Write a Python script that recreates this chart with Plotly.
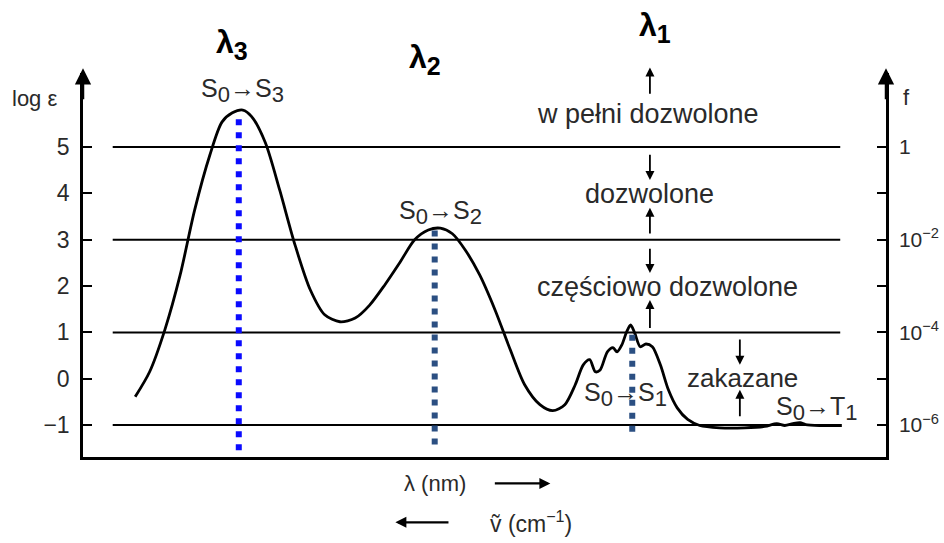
import plotly.graph_objects as go

# Spectrum curve (x: relative position along wavelength axis, 0-100; y: log epsilon)
CURVE_X = [6.5, 8.3, 10.2, 12.1, 13.9, 15.8, 17.3, 18.6, 19.9, 21.0, 22.7, 24.5, 26.4, 28.3, 30.1,
           32.0, 33.9, 35.7, 37.6, 39.5, 41.3, 43.0, 44.5, 46.0, 47.6, 49.4, 51.3, 53.2, 55.0, 56.9,
           58.5, 60.0, 61.3, 62.3, 63.1, 63.8, 64.4, 65.3, 66.0, 66.5, 67.1, 67.7, 68.2, 68.7, 69.4,
           70.1, 70.9, 71.9, 72.9, 74.0, 75.3, 76.8, 79.3, 82.4, 84.9, 86.4, 87.4, 88.4, 89.3, 90.0,
           91.8, 94.5]
CURVE_Y = [-0.39, 0.15, 1.06, 2.24, 3.64, 4.83, 5.54, 5.74, 5.80, 5.66, 5.10, 4.07, 2.89, 1.92, 1.38,
           1.23, 1.31, 1.59, 2.03, 2.52, 3.00, 3.21, 3.25, 3.13, 2.78, 2.24, 1.49, 0.63, -0.13, -0.56,
           -0.69, -0.56, -0.13, 0.30, 0.41, 0.15, 0.19, 0.58, 0.67, 0.58, 0.73, 1.01, 1.16, 0.99, 0.69,
           0.75, 0.69, 0.30, -0.24, -0.63, -0.88, -1.01, -1.06, -1.06, -1.03, -0.97, -1.01, -0.97, -0.95, -0.99,
           -1.01, -1.01]

# Band maxima (lambda_3, lambda_2, lambda_1)
PEAK_X = [19.4, 43.8, 68.4]
PEAK_TOP = [5.6, 3.2, 0.95]
PEAK_BOTTOM = [-1.69, -1.55, -1.25]
PEAK_COLORS = ["#0a0aff", "#2b4f82", "#2b4f82"]

# Boundary levels of log epsilon
LEVELS = [-1, 1, 3, 5]
LEVEL_X = [3.7, 94.3]

# Axis ticks
LEFT_TICKS = [-1, 0, 1, 2, 3, 4, 5]
LEFT_LABELS = ["\u22121", "0", "1", "2", "3", "4", "5"]
RIGHT_LABELS = ["10<sup>\u22126</sup>", "", "10<sup>\u22124</sup>", "", "10<sup>\u22122</sup>", "", "1"]

XMIN, XMAX = 0, 100
YMIN, YMAX = -1.69, 6.6
PX_X = 803 / (XMAX - XMIN)
PX_Y = 384 / (YMAX - YMIN)
FONT = "Liberation Sans, Arial, sans-serif"
TXT = "#2a2a2a"

fig = go.Figure()

for lv in LEVELS:
    fig.add_trace(go.Scatter(x=LEVEL_X, y=[lv, lv], mode="lines",
                             line=dict(color="black", width=2), hoverinfo="skip"))

fig.add_trace(go.Scatter(x=CURVE_X, y=CURVE_Y, mode="lines",
                         line=dict(color="black", width=2.8, shape="spline", smoothing=0.8)))

for px, top, bot, col in zip(PEAK_X, PEAK_TOP, PEAK_BOTTOM, PEAK_COLORS):
    fig.add_trace(go.Scatter(x=[px, px], y=[top, bot], mode="lines",
                             line=dict(color=col, width=6, dash="6px,7px")))

fig.add_trace(go.Scatter(x=[None], y=[None], yaxis="y2", showlegend=False))

ann = []


def pxp(x):
    return (x - XMIN) / (XMAX - XMIN)


def pyp(y):
    return (y - YMIN) / (YMAX - YMIN)


def text(x, y, t, size=27, color=TXT):
    ann.append(dict(x=pxp(x), y=pyp(y), xref="paper", yref="paper", text=t, showarrow=False,
                    xanchor="center", yanchor="middle", borderpad=0,
                    font=dict(family=FONT, size=size, color=color)))


def arrow(x0, y0, x1, y1, width=1.8, head=2, size=1.0):
    ann.append(dict(x=pxp(x1), y=pyp(y1), xref="paper", yref="paper",
                    ax=(x0 - x1) * PX_X, ay=-(y0 - y1) * PX_Y,
                    text="", showarrow=True, arrowhead=head, arrowwidth=width,
                    arrowsize=size, arrowcolor="black"))


text(-6.0, 6.06, "log \u03b5", size=22)
text(102.6, 6.08, "f", size=22)

LAM = "<b>\u03bb</b><sub><span style='font-size:25px'><b>%s</b></span></sub>"
text(18.6, 7.22, LAM % "3", size=32, color="black")
text(42.6, 6.90, LAM % "2", size=32, color="black")
text(71.2, 7.58, LAM % "1", size=32, color="black")

S = "S<sub><span style='font-size:22px'>%s</span></sub>"
T = "T<sub><span style='font-size:22px'>%s</span></sub>"
text(19.9, 6.23, (S % "0") + "\u2192" + (S % "3"), size=25)
text(44.5, 3.58, (S % "0") + "\u2192" + (S % "2"), size=25)
text(67.6, -0.35, (S % "0") + "\u2192" + (S % "1"), size=25)
text(91.3, -0.64, (S % "0") + "\u2192" + (T % "1"), size=25)

text(70.4, 5.71, "w pe\u0142ni dozwolone")
text(70.6, 3.99, "dozwolone")
text(72.8, 1.98, "cz\u0119\u015bciowo dozwolone")
text(82.1, 0.02, "zakazane", size=26)

arrow(70.6, 6.12, 70.6, 6.72)
arrow(70.6, 4.87, 70.6, 4.29)
arrow(70.6, 3.10, 70.6, 3.69)
arrow(70.6, 2.84, 70.6, 2.28)
arrow(70.6, 1.06, 70.6, 1.70)
arrow(81.8, 0.88, 81.8, 0.30)
arrow(81.8, -0.84, 81.8, -0.24)

# axis arrowheads
arrow(0, 6.0, 0, YMAX + 0.1, width=2.5, head=2, size=1.3)
arrow(100, 6.0, 100, YMAX + 0.1, width=2.5, head=2, size=1.3)

# bottom axis labels
text(43.8, -2.26, "\u03bb (nm)", size=22)
arrow(51.1, -2.26, 58.2, -2.26, width=2.2, head=2)
arrow(45.7, -3.10, 38.9, -3.10, width=2.2, head=2)
text(55.8, -3.10, "\u1e7d (cm<sup>\u22121</sup>)", size=23)

fig.update_layout(
    width=944, height=543,
    margin=dict(l=83, r=58, t=73, b=86),
    paper_bgcolor="white", plot_bgcolor="white",
    showlegend=False,
    annotations=ann,
    xaxis=dict(range=[XMIN, XMAX], showgrid=False, zeroline=False, showticklabels=False,
               showline=True, linecolor="black", linewidth=2.5, mirror=False),
    yaxis=dict(range=[YMIN, YMAX], showgrid=False, zeroline=False, automargin=False,
               tickvals=LEFT_TICKS, ticktext=LEFT_LABELS, ticks="inside", ticklen=9,
               tickwidth=2, tickcolor="black", ticklabelstandoff=6,
               showline=True, linecolor="black", linewidth=2.5,
               tickfont=dict(family=FONT, size=23, color=TXT)),
    yaxis2=dict(range=[YMIN, YMAX], overlaying="y", side="right", showgrid=False,
                zeroline=False, automargin=False, tickvals=LEFT_TICKS, ticktext=RIGHT_LABELS,
                ticks="inside", ticklen=9, tickwidth=2, tickcolor="black", ticklabelstandoff=6,
                showline=True, linecolor="black", linewidth=2.5,
                tickfont=dict(family=FONT, size=21, color=TXT)),
)

fig.write_html("out.html", config={"displayModeBar": False},
               post_script="document.body.style.margin='0';document.body.style.overflow='hidden';")
